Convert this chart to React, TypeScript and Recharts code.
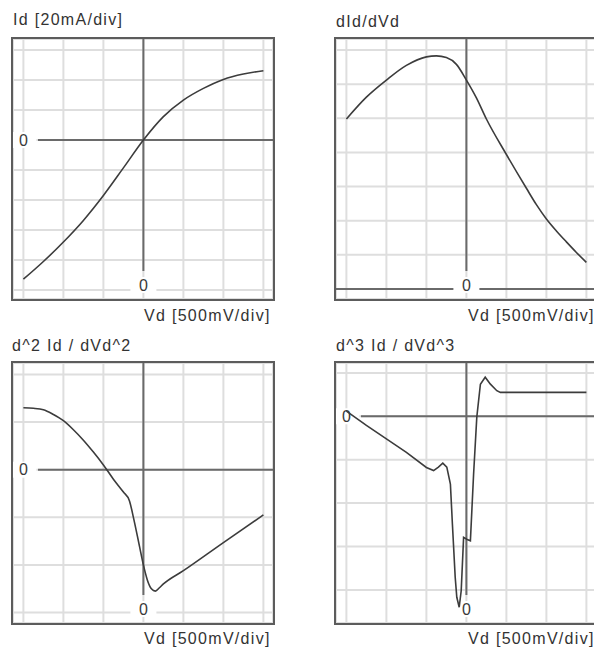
import {
  LineChart,
  Line,
  XAxis,
  YAxis,
  CartesianGrid,
  ReferenceLine,
  ReferenceDot,
} from 'recharts'

const FONT = '"Liberation Sans", Arial, sans-serif'

// Vd in divisions (500 mV/div), every trace in its own divisions
const idVd = [-3, -2.5, -2, -1.5, -1, -0.5, 0, 0.5, 1, 1.5, 2, 2.5, 3]
const idValues = [-4.64, -4.05, -3.4, -2.68, -1.85, -0.93, 0, 0.78, 1.33, 1.72, 2.02, 2.2, 2.31]

const d1Vd = [
  -3, -2.5, -2, -1.5, -1, -0.75, -0.5, -0.25, 0, 0.25, 0.5, 1, 1.5, 1.75, 2, 2.25, 2.5, 2.75, 3,
]
const d1Values = [
  4.98, 5.62, 6.12, 6.55, 6.8, 6.83, 6.78, 6.58, 6.12, 5.6, 4.98, 3.94, 2.95, 2.47, 2.05, 1.7, 1.38,
  1.07, 0.78,
]

const d2Vd = [
  -3, -2.75, -2.5, -2.25, -2, -1.75, -1.5, -1.25, -1, -0.75, -0.5, -0.35, -0.25, -0.1, 0, 0.1, 0.2,
  0.3, 0.4, 0.5, 1, 2, 3,
]
const d2Values = [
  1.3, 1.29, 1.26, 1.16, 1.03, 0.84, 0.62, 0.37, 0.1, -0.2, -0.47, -0.65, -1.0, -1.6, -2.0, -2.32,
  -2.5, -2.55, -2.48, -2.4, -2.12, -1.53, -0.95,
]

const d3Vd = [
  -3, -2.5, -2, -1.5, -1, -0.82, -0.7, -0.59, -0.49, -0.4, -0.35, -0.28, -0.24, -0.18, -0.13, -0.07,
  0.02, 0.1, 0.18, 0.26, 0.35, 0.47, 0.6, 0.76, 0.85, 1.5, 2, 2.5, 3,
]
const d3Values = [
  0.12, -0.21, -0.52, -0.83, -1.18, -1.25, -1.17, -1.08, -1.17, -1.56, -2.48, -3.71, -4.17, -4.4,
  -4.02, -2.79, -2.84, -2.87, -1.33, -0.02, 0.74, 0.9, 0.74, 0.59, 0.55, 0.55, 0.55, 0.55, 0.55,
]

const xTicks = [-3, -2, -1, 0, 1, 2, 3]

const W = 260
const H = 260
const xDomain: [number, number] = [-3.26, 3.24]
const pxX = W / (xDomain[1] - xDomain[0])

const textStyle = {
  position: 'absolute' as const,
  fontFamily: FONT,
  fontSize: 16,
  lineHeight: '16px',
  letterSpacing: '1.3px',
  color: '#333',
  whiteSpace: 'nowrap' as const,
}

function ZeroMark(props: any) {
  const { cx, cy } = props
  return (
    <g>
      <rect x={cx - 13} y={cy - 8} width={26} height={16} fill="#fff" />
      <text
        x={cx}
        y={cy}
        dy="0.36em"
        textAnchor="middle"
        fill="#3a3a3a"
        fontSize={16}
        fontFamily={FONT}
      >
        0
      </text>
    </g>
  )
}

type PanelProps = {
  left: number
  top: number
  vd: number[]
  values: number[]
  yDomain: [number, number]
  yTicks: number[]
  curve: 'monotone' | 'linear'
  zeroAtBase?: boolean
}

function Panel({ left, top, vd, values, yDomain, yTicks, curve, zeroAtBase }: PanelProps) {
  const data = vd.map((x, i) => ({ x, y: values[i] }))
  const pxY = H / (yDomain[1] - yDomain[0])
  const axisEnd = yDomain[0] + 28 / pxY
  const labelY = yDomain[0] + 14 / pxY
  const axisStart = zeroAtBase ? xDomain[0] : xDomain[0] + 25 / pxX

  return (
    <div
      style={{
        position: 'absolute',
        left,
        top,
        width: W,
        height: H,
        border: '2px solid #5c5c5c',
        background: '#fff',
      }}
    >
      <LineChart width={W} height={H} data={data} margin={{ top: 0, right: 0, bottom: 0, left: 0 }}>
        <XAxis
          dataKey="x"
          type="number"
          domain={xDomain}
          ticks={xTicks}
          interval={0}
          hide
          allowDataOverflow
        />
        <YAxis type="number" domain={yDomain} ticks={yTicks} interval={0} hide allowDataOverflow />
        <CartesianGrid stroke="#dedede" strokeWidth={2} />
        <ReferenceLine
          segment={[
            { x: 0, y: yDomain[1] },
            { x: 0, y: axisEnd },
          ]}
          stroke="#6a6a6a"
          strokeWidth={2}
          ifOverflow="hidden"
        />
        <ReferenceLine
          segment={[
            { x: axisStart, y: 0 },
            { x: xDomain[1], y: 0 },
          ]}
          stroke="#6a6a6a"
          strokeWidth={2}
          ifOverflow="hidden"
        />
        <ReferenceDot x={0} y={labelY} r={0} shape={ZeroMark} ifOverflow="visible" />
        {!zeroAtBase && <ReferenceDot x={-3} y={0} r={0} shape={ZeroMark} ifOverflow="visible" />}
        <Line
          dataKey="y"
          type={curve}
          stroke="#3c3c3c"
          strokeWidth={1.6}
          dot={false}
          isAnimationActive={false}
          {...({ zIndex: 900 } as any)}
        />
      </LineChart>
    </div>
  )
}

export default function App() {
  return (
    <div
      style={{
        position: 'fixed',
        left: 0,
        top: 0,
        width: 594,
        height: 648,
        overflow: 'hidden',
        background: '#fff',
      }}
    >
      <div style={{ ...textStyle, left: 13, top: 12 }}>Id [20mA/div]</div>
      <Panel
        left={11}
        top={37}
        vd={idVd}
        values={idValues}
        yDomain={[-5.3, 3.367]}
        yTicks={[-5, -4, -3, -2, -1, 0, 1, 2, 3]}
        curve="monotone"
      />
      <div style={{ ...textStyle, left: 144, top: 308 }}>Vd [500mV/div]</div>

      <div style={{ ...textStyle, left: 336, top: 14 }}>dId/dVd</div>
      <Panel
        left={334}
        top={37}
        vd={d1Vd}
        values={d1Values}
        yDomain={[-0.293, 7.323]}
        yTicks={[0, 1, 2, 3, 4, 5, 6, 7]}
        curve="monotone"
        zeroAtBase
      />
      <div style={{ ...textStyle, left: 468, top: 308 }}>Vd [500mV/div]</div>

      <div style={{ ...textStyle, left: 12, top: 338 }}>d^2 Id / dVd^2</div>
      <Panel
        left={11}
        top={361}
        vd={d2Vd}
        values={d2Values}
        yDomain={[-3.22, 2.241]}
        yTicks={[-3, -2, -1, 0, 1, 2]}
        curve="monotone"
      />
      <div style={{ ...textStyle, left: 144, top: 631 }}>Vd [500mV/div]</div>

      <div style={{ ...textStyle, left: 336, top: 338 }}>d^3 Id / dVd^3</div>
      <Panel
        left={334}
        top={361}
        vd={d3Vd}
        values={d3Values}
        yDomain={[-4.763, 1.228]}
        yTicks={[-4, -3, -2, -1, 0, 1]}
        curve="linear"
      />
      <div style={{ ...textStyle, left: 468, top: 631 }}>Vd [500mV/div]</div>
    </div>
  )
}
